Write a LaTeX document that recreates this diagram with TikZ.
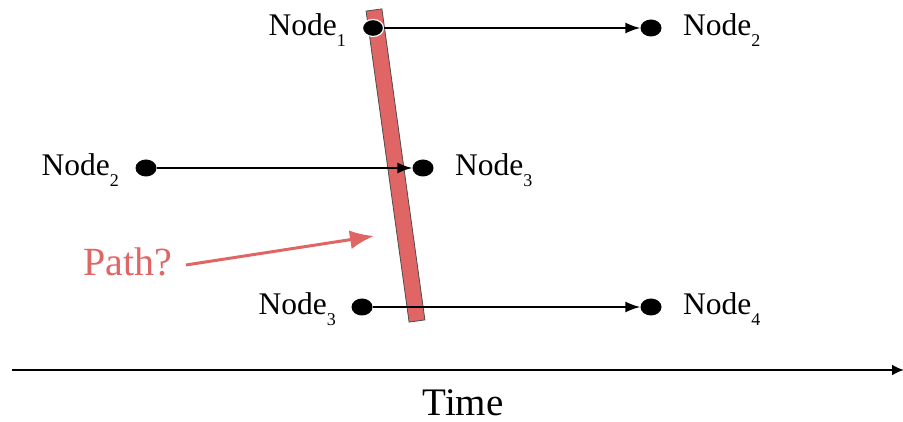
\documentclass[tikz,border=0pt]{standalone}
\usepackage{fontspec}
\setmainfont{Liberation Serif}
\usetikzlibrary{arrows.meta,shapes.geometric}
\definecolor{barred}{HTML}{E06666}
\newcommand{\nsub}[1]{\raisebox{-0.75ex}{\fontsize{18}{18}\selectfont #1}}
\begin{document}
\begin{tikzpicture}[x=1pt,y=-1pt,
  dot/.style={ellipse, fill=black, minimum width=21pt, minimum height=17pt, inner sep=0pt},
  lbl/.style={font=\fontsize{31.5}{36}\selectfont, inner sep=0pt},
  flow/.style={line width=1.6pt, -{Latex[length=15pt,width=11pt]}, shorten >=0pt},
]
\useasboundingbox (0,0) rectangle (903,422);
% red bar
\filldraw[fill=barred, draw=black!70, line width=0.8pt]
  (366.1,11.1) -- (381.9,8.9) -- (424.9,319.9) -- (409.1,322.1) -- cycle;
% dots
\node[dot] (n1) at (373,28) {};
\node[dot] (n2) at (651,28) {};
\node[dot] (m2) at (146,168) {};
\node[dot] (m3) at (423,168) {};
\node[dot] (b3) at (362,307) {};
\node[dot] (b4) at (651,307) {};
% arrows
\draw[flow] (n1) -- (n2);
\draw[flow] (m2) -- (m3);
\draw[flow] (b3) -- (b4);
% redraw dot 1 with white rim
\node[dot, draw=white, line width=1.2pt] at (n1) {};
% labels
\node[lbl, anchor=base east] (t1) at (346,36) {Node\nsub{1}};
\node[lbl, anchor=base west] (t2) at (683,36) {Node\nsub{2}};
\node[lbl, anchor=base east] (t3) at (119,176) {Node\nsub{2}};
\node[lbl, anchor=base west] (t4) at (455,176) {Node\nsub{3}};
\node[lbl, anchor=base east] (t5) at (336,315) {Node\nsub{3}};
\node[lbl, anchor=base west] (t6) at (683,315) {Node\nsub{4}};
% Path?
\node[lbl, font=\fontsize{40}{46}\selectfont, text=barred, anchor=base] (path) at (128,276) {Path?};
\coordinate (ptip) at (374,236);
\draw[barred, line width=3pt, -{Latex[length=24pt,width=19pt]}] (186,265) -- (ptip);
% time axis
\coordinate (ts) at (12,370);
\coordinate (te) at (904,370);
\draw[line width=2.2pt, -{Latex[length=12pt,width=11pt]}] (ts) -- (te);
\node[lbl, font=\fontsize{39}{46}\selectfont, anchor=base] (time) at (463,415) {Time};
\end{tikzpicture}
\end{document}
